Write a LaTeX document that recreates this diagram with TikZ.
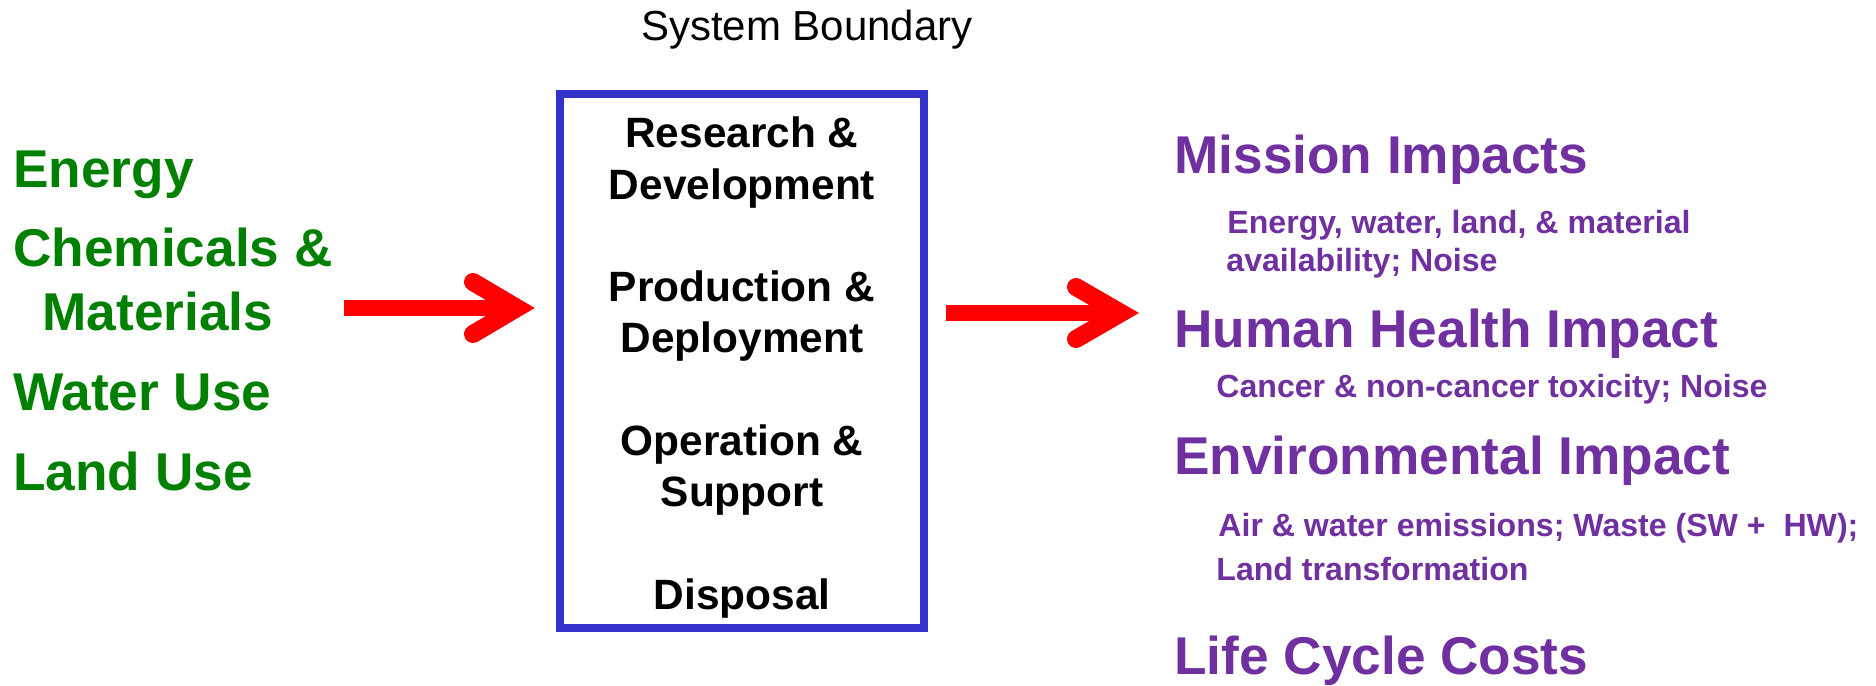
\documentclass[tikz,border=0pt]{standalone}
\usepackage{fontspec}
\setmainfont{Liberation Sans}
\definecolor{ingreen}{HTML}{008000}
\definecolor{outpurple}{HTML}{7030A0}
\definecolor{boxblue}{HTML}{3333CC}
\definecolor{arrred}{HTML}{FF0000}
\begin{document}
\begin{tikzpicture}[x=0.5pt,y=-0.5pt,
  txt/.style={inner sep=0pt, anchor=base west},
  inlabel/.style={txt, text=ingreen, font=\bfseries\fontsize{26.6}{31}\selectfont},
  outhead/.style={txt, text=outpurple, font=\bfseries\fontsize{26.6}{31}\selectfont},
  outsub/.style={txt, text=outpurple, font=\bfseries\fontsize{16.05}{19}\selectfont},
  stage/.style={inner sep=0pt, anchor=base, font=\bfseries\fontsize{21.2}{25}\selectfont},
  boundary/.style={draw=boxblue, line width=4pt, minimum width=182pt, minimum height=267pt, inner sep=0pt},
  shaft/.style={draw=arrred, line width=8pt},
  chevron/.style={draw=arrred, line width=9pt, line cap=round, line join=miter},
]
\useasboundingbox (0,0) rectangle (1876,686);

% title
\node[inner sep=0pt, anchor=base, font=\fontsize{21}{25}\selectfont] (title) at (807,40) {System Boundary};

% system boundary box
\node[boundary] (box) at (742,361) {};
\node[stage] (s1a) at (742,147) {Research \&};
\node[stage] (s1b) at (742,199) {Development};
\node[stage] (s2a) at (742,301) {Production \&};
\node[stage] (s2b) at (742,352) {Deployment};
\node[stage] (s3a) at (742,455) {Operation \&};
\node[stage] (s3b) at (742,506) {Support};
\node[stage] (s4) at (742,609) {Disposal};

% inputs
\node[inlabel] (energy) at (13,187) {Energy};
\node[inlabel] (chem) at (13,266) {Chemicals \&};
\node[inlabel] (mat) at (42,330) {Materials};
\node[inlabel] (water) at (13,410) {Water Use};
\node[inlabel] (land) at (13,490) {Land Use};

% outputs
\node[outhead] (mission) at (1174,173) {Mission Impacts};
\node[outsub] (mission1) at (1227,233) {Energy, water, land, \& material};
\node[outsub] (mission2) at (1226,271) {availability; Noise};
\node[outhead] (health) at (1174,347) {Human Health Impact};
\node[outsub] (health1) at (1216,397) {Cancer \& non-cancer toxicity; Noise};
\node[outhead] (env) at (1174,474) {Environmental Impact};
\node[outsub] (env1) at (1218,536) {Air \& water emissions; Waste (SW + \ HW);};
\node[outsub] (env2) at (1216,580) {Land transformation};
\node[outhead] (lcc) at (1174,674) {Life Cycle Costs};

% arrow 1 (inputs -> box)
\coordinate (a1s) at (344,308);
\coordinate (a1v) at (517,308);
\coordinate (a1u) at (473,282);
\coordinate (a1l) at (473,334);
\draw[shaft] (a1s) -- (a1v);
\draw[chevron] (a1u) -- (a1v) -- (a1l);

% arrow 2 (box -> outputs)
\coordinate (a2s) at (946,313);
\coordinate (a2v) at (1121,313);
\coordinate (a2u) at (1076,287);
\coordinate (a2l) at (1076,339);
\draw[shaft] (a2s) -- (a2v);
\draw[chevron] (a2u) -- (a2v) -- (a2l);
\end{tikzpicture}
\end{document}
